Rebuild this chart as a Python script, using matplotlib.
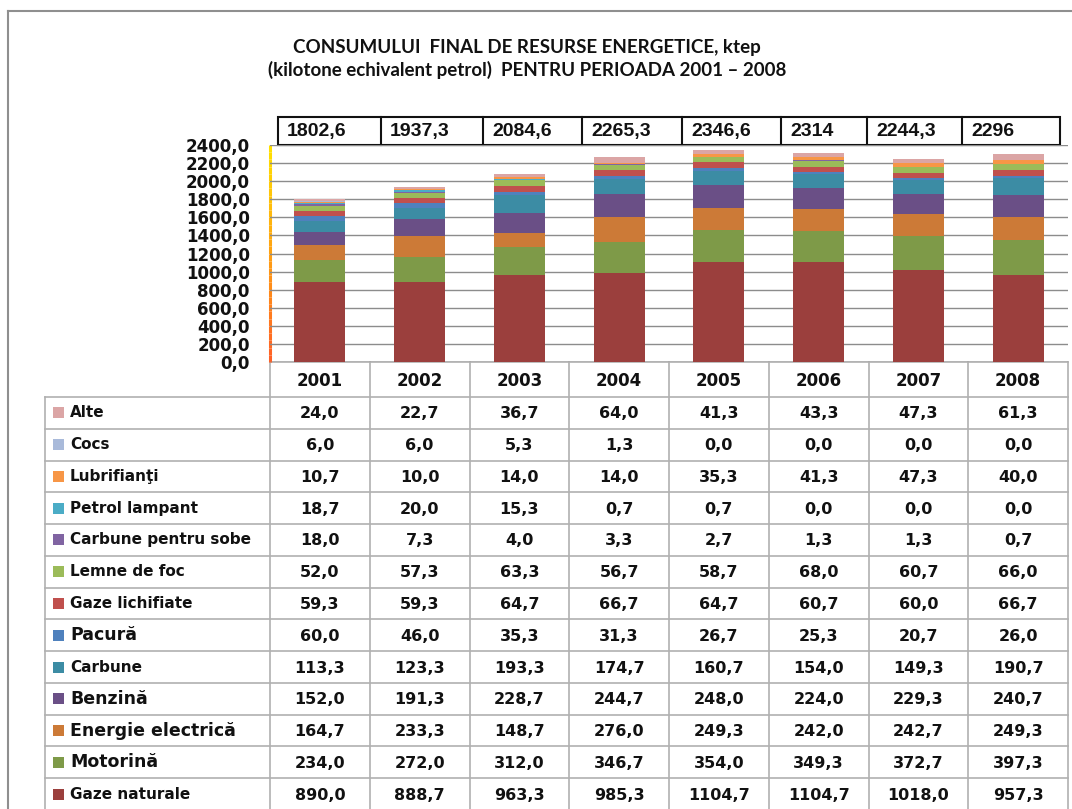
import matplotlib
matplotlib.use("Agg")
from matplotlib import pyplot as plt
from matplotlib.ticker import FuncFormatter
from matplotlib.patches import Rectangle

years = ['2001', '2002', '2003', '2004', '2005', '2006', '2007', '2008']
totals = ['1802,6', '1937,3', '2084,6', '2265,3', '2346,6', '2314', '2244,3', '2296']

# stacked from bottom to top
gaze_naturale = [890.0, 888.7, 963.3, 985.3, 1104.7, 1104.7, 1018.0, 957.3]
motorina = [234.0, 272.0, 312.0, 346.7, 354.0, 349.3, 372.7, 397.3]
energie = [164.7, 233.3, 148.7, 276.0, 249.3, 242.0, 242.7, 249.3]
benzina = [152.0, 191.3, 228.7, 244.7, 248.0, 224.0, 229.3, 240.7]
carbune = [113.3, 123.3, 193.3, 174.7, 160.7, 154.0, 149.3, 190.7]
pacura = [60.0, 46.0, 35.3, 31.3, 26.7, 25.3, 20.7, 26.0]
gaze_lich = [59.3, 59.3, 64.7, 66.7, 64.7, 60.7, 60.0, 66.7]
lemne = [52.0, 57.3, 63.3, 56.7, 58.7, 68.0, 60.7, 66.0]
carbune_sobe = [18.0, 7.3, 4.0, 3.3, 2.7, 1.3, 1.3, 0.7]
petrol = [18.7, 20.0, 15.3, 0.7, 0.7, 0.0, 0.0, 0.0]
lubrifianti = [10.7, 10.0, 14.0, 14.0, 35.3, 41.3, 47.3, 40.0]
cocs = [6.0, 6.0, 5.3, 1.3, 0.0, 0.0, 0.0, 0.0]
alte = [24.0, 22.7, 36.7, 64.0, 41.3, 43.3, 47.3, 61.3]

series = [
    ('Gaze naturale', gaze_naturale, '#9B3F3D', False),
    ('Motorină', motorina, '#7E9A48', True),
    ('Energie electrică', energie, '#CC7A37', True),
    ('Benzină', benzina, '#6A4F86', True),
    ('Carbune', carbune, '#3C8CA4', False),
    ('Pacură', pacura, '#4F81BD', True),
    ('Gaze lichifiate', gaze_lich, '#C0504D', False),
    ('Lemne de foc', lemne, '#9BBB59', False),
    ('Carbune pentru sobe', carbune_sobe, '#8064A2', False),
    ('Petrol lampant', petrol, '#4BACC6', False),
    ('Lubrifianţi', lubrifianti, '#F79646', False),
    ('Cocs', cocs, '#A9BADA', False),
    ('Alte', alte, '#DBA5A5', False),
]

W, H = 1072, 809
fig = plt.figure(figsize=(W / 100, H / 100), dpi=100)

# chart area (pixel layout)
px_l, px_r, px_t, px_b = 270, 1068, 145, 362
ax = fig.add_axes([px_l / W, 1 - px_b / H, (px_r - px_l) / W, (px_b - px_t) / H])
ax.set_facecolor('none')

x = range(len(years))
bottom = [0.0] * len(years)
for name, vals, col, _ in series:
    ax.bar(x, vals, width=0.51, bottom=bottom, color=col, edgecolor='none', zorder=3)
    bottom = [b + v for b, v in zip(bottom, vals)]

ax.set_xlim(-0.5, len(years) - 0.5)
ax.set_ylim(0, 2400)
ax.set_yticks(range(0, 2401, 200))
ax.yaxis.set_major_formatter(FuncFormatter(lambda v, p: f"{v:.1f}".replace('.', ',')))
ax.grid(axis='y', color='#8c8c8c', lw=1, zorder=0)
ax.set_xticks([])
for s in ['top', 'right', 'bottom', 'left']:
    ax.spines[s].set_visible(False)
ax.tick_params(axis='y', length=0, pad=14.5, labelsize=12)
for lbl in ax.get_yticklabels():
    lbl.set_fontweight('bold')
    lbl.set_color('#111111')

# overlay for frame, title and tables, in pixel coordinates
ov = fig.add_axes([0, 0, 1, 1], zorder=-1)
ov.set_xlim(0, W)
ov.set_ylim(H, 0)
ov.axis('off')

frame = '#8f8f8f'
ov.plot([8, W], [11, 11], color=frame, lw=1.5)
ov.plot([8, 8], [11, H], color=frame, lw=1.5)

# yellow-to-orange value axis line
nseg = 30
for k in range(nseg):
    f = k / (nseg - 1)
    y0 = px_t + (px_b - px_t) * k / nseg
    y1 = px_t + (px_b - px_t) * (k + 1) / nseg
    ov.plot([px_l, px_l], [y0, y1], color=(1.0, 0.88 - 0.5 * f, 0.0 + 0.15 * f),
            lw=2.2, solid_capstyle='butt', zorder=5)

title_font = ['Lato', 'DejaVu Sans']
ov.text(527, 47, 'CONSUMULUI  FINAL DE RESURSE ENERGETICE, ktep', ha='center', va='center',
        fontsize=13.5, fontweight='bold', family=title_font, color='#111111')
ov.text(527, 70, '(kilotone echivalent petrol)  PENTRU PERIOADA 2001 – 2008', ha='center', va='center',
        fontsize=13.5, fontweight='bold', family=title_font, color='#111111')

# totals table above chart
tb = [278, 381, 483, 582, 682, 781, 867, 962, 1060]
ov.add_patch(Rectangle((tb[0], 117), tb[-1] - tb[0], 28, fill=False, ec='#111111', lw=1.5))
for xb in tb[1:-1]:
    ov.plot([xb, xb], [117, 145], color='#111111', lw=1.5)
for i, t in enumerate(totals):
    ov.text(tb[i] + 9, 131.5, t, ha='left', va='center', fontsize=14, fontweight='bold',
            family=['Liberation Sans', 'DejaVu Sans'], color='#111111')

# data table below chart
grid_c = '#b0b0b0'
colw = (px_r - px_l) / len(years)
row_top = 397
row_h = (H + 1 - row_top) / len(series)
lab_l = 45

ov.plot([px_l, px_r], [px_b, px_b], color=grid_c, lw=1.2)
for i in range(len(years) + 1):
    xb = px_l + i * colw
    ov.plot([xb, xb], [px_b, H], color=grid_c, lw=1.2)
ov.plot([lab_l, lab_l], [row_top, H], color=grid_c, lw=1.2)
for j in range(len(series) + 1):
    yb = row_top + j * row_h
    ov.plot([lab_l, px_r], [yb, yb], color=grid_c, lw=1.2)

for i, yr in enumerate(years):
    ov.text(px_l + (i + 0.5) * colw, (px_b + row_top) / 2 + 1, yr, ha='center', va='center',
            fontsize=12, fontweight='bold', color='#111111')

for j, (name, vals, col, big) in enumerate(series[::-1]):
    yc = row_top + (j + 0.5) * row_h
    ov.add_patch(Rectangle((53, yc - 5.5), 11, 11, color=col, lw=0))
    ov.text(70, yc, name, ha='left', va='center', fontsize=12.5 if big else 11,
            fontweight='bold', color='#111111')
    for i, v in enumerate(vals):
        ov.text(px_l + (i + 0.5) * colw, yc + 1, f"{v:.1f}".replace('.', ','), ha='center',
                va='center', fontsize=11.5, fontweight='bold', color='#111111')

fig.savefig('out.png', dpi=100, facecolor='white')
